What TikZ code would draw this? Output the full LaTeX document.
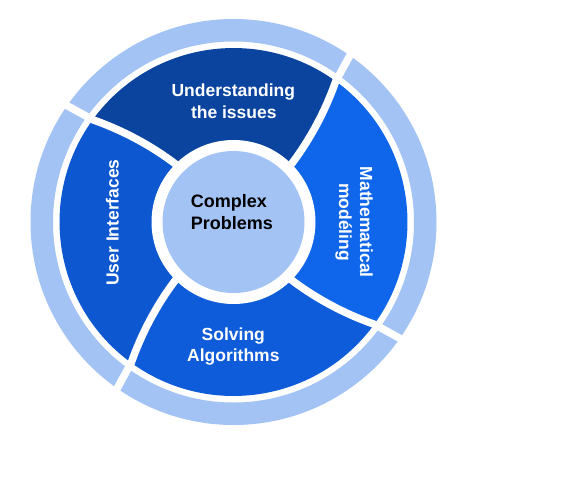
\documentclass[tikz,border=0pt]{standalone}
\usepackage{fontspec}
\setmainfont{Liberation Sans}
\definecolor{ringc}{HTML}{A3C3F5}
\definecolor{topc}{HTML}{0B449F}
\definecolor{rightc}{HTML}{1066EA}
\definecolor{bottomc}{HTML}{0E5CD9}
\definecolor{leftc}{HTML}{0D57D0}
\begin{document}
\begin{tikzpicture}[x=1pt,y=1pt,
  lbl/.style={text=white, font=\fontsize{17.5}{21}\selectfont\bfseries, inner sep=0pt, anchor=base},
  ctr/.style={text=black, font=\fontsize{18}{22}\selectfont\bfseries, inner sep=0pt, anchor=base west},
  sepline/.style={white, line width=7.5pt}]
\fill[white] (0,0) rectangle (562,-490);
\useasboundingbox (0,0) rectangle (562,-490);
\begin{scope}[shift={(233.5,-222)}]
  % outer ring
  \fill[ringc, even odd rule] (0,0) circle[radius=203pt] (0,0) circle[radius=180.5pt];
  % four segments
  \foreach \a/\c in {45/topc, 135/leftc, 225/bottomc, 315/rightc} {
    \pgfmathsetmacro{\sa}{\a+9}
    \pgfmathsetmacro{\ea}{\a+99}
    \fill[\c] plot[domain=0:1, samples=30, variable=\t] ({\a+9*\t}:{82+92*\t})
      arc[start angle=\sa, end angle=\ea, radius=174pt]
      -- plot[domain=0:1, samples=30, variable=\t] ({\a+99-9*\t}:{174-92*\t})
      -- (0,0) -- cycle;
  }
  % separators (also cut the outer ring)
  \foreach \a in {45,135,225,315} {
    \pgfmathsetmacro{\oa}{\a+10.3}
    \draw[sepline] plot[domain=-0.1:1, samples=30, variable=\t] ({\a+9*\t}:{82+92*\t})
      -- (\oa:212);
  }
  % centre
  \fill[white] (0,0) circle[radius=82pt];
  \fill[ringc] (0,0) circle[radius=71pt];
\end{scope}
% labels
\node[lbl] (u1) at (233.3,-96.7) {Understanding};
\node[lbl] (u2) at (233.8,-118.3) {the issues};
\node[lbl] (s1) at (233.3,-340) {Solving};
\node[lbl] (s2) at (233.3,-361.3) {Algorithms};
\node[lbl, rotate=-90] (m1) at (360,-222.2) {Mathematical};
\node[lbl, rotate=-90] (m2) at (339,-222) {modéling};
\node[lbl, rotate=90] (ui) at (118.5,-222.5) {User Interfaces};
\node[ctr] (c1) at (190.7,-207.3) {Complex};
\node[ctr] (c2) at (190.7,-229.3) {Problems};
\end{tikzpicture}
\end{document}
